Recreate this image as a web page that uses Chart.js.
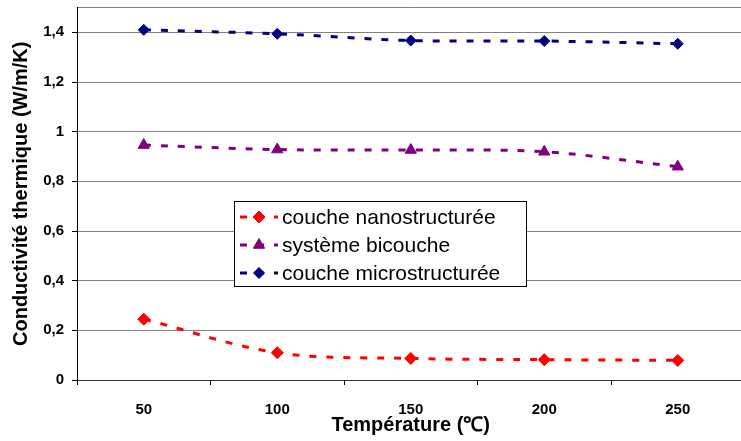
<!DOCTYPE html>
<html>
<head>
<meta charset="utf-8">
<script src="https://cdn.jsdelivr.net/npm/chart.js@4.4.0/dist/chart.umd.min.js"></script>
<style>
  html, body { margin: 0; padding: 0; background: #fff; overflow: hidden; }
  #wrap { width: 752px; height: 441px; }
</style>
</head>
<body>
<div id="wrap"><canvas id="c" width="752" height="441"></canvas></div>
<script>
// Thermal conductivity (W/m/K) versus temperature (°C)
const temperatures = ['50', '100', '150', '200', '250'];
const nanoLayer  = [0.245, 0.110, 0.087, 0.082, 0.079];
const bilayer    = [0.946, 0.928, 0.926, 0.919, 0.859];
const microLayer = [1.410, 1.394, 1.367, 1.365, 1.354];
const seriesNames = ['couche nanostructurée', 'système bicouche', 'couche microstructurée'];

const FONT = "'Liberation Sans', Arial, sans-serif";

// Framed legend drawn inside the plot area
const insideLegend = {
  id: 'insideLegend',
  afterDatasetsDraw(chart, args, o) {
    const { ctx, chartArea } = chart;
    const x0 = Math.round(chartArea.left + o.offsetX);
    const y0 = Math.round(chartArea.top + o.offsetY);
    ctx.save();
    ctx.fillStyle = '#fff';
    ctx.fillRect(x0, y0, o.width, o.height);
    ctx.strokeStyle = '#000';
    ctx.lineWidth = 1;
    ctx.strokeRect(x0 + 0.5, y0 + 0.5, o.width, o.height);
    chart.data.datasets.forEach((ds, i) => {
      const cy = y0 + o.firstRow + i * o.rowGap;
      ctx.strokeStyle = ds.borderColor;
      ctx.lineWidth = ds.borderWidth;
      ctx.setLineDash(ds.borderDash);
      ctx.beginPath();
      ctx.moveTo(x0 + 6, cy);
      ctx.lineTo(x0 + 44, cy);
      ctx.stroke();
      ctx.setLineDash([]);
      ctx.fillStyle = ds.pointBackgroundColor;
      ctx.strokeStyle = ds.pointBorderColor;
      ctx.lineWidth = 1;
      Chart.helpers.drawPoint(ctx, { pointStyle: ds.pointStyle, radius: ds.pointRadius, rotation: 0, borderWidth: 1 }, x0 + 25, cy);
      ctx.fillStyle = '#000';
      ctx.font = '21px ' + FONT;
      ctx.textBaseline = 'middle';
      ctx.textAlign = 'left';
      ctx.fillText(ds.label, x0 + 48, cy + 1);
    });
    ctx.restore();
  }
};

function series(label, data, color, style, radius) {
  return {
    label, data,
    borderColor: color,
    backgroundColor: color,
    borderWidth: 3,
    borderDash: [7, 10],
    tension: 0.35,
    pointStyle: style,
    pointRadius: radius,
    pointHoverRadius: radius,
    pointBackgroundColor: color,
    pointBorderColor: color,
    pointBorderWidth: 1,
    fill: false
  };
}

new Chart(document.getElementById('c'), {
  type: 'line',
  data: {
    labels: temperatures,
    datasets: [
      series(seriesNames[0], nanoLayer, '#ff0000', 'rectRot', 6),
      series(seriesNames[1], bilayer, '#800080', 'triangle', 6.5),
      series(seriesNames[2], microLayer, '#000080', 'rectRot', 5.5)
    ]
  },
  options: {
    responsive: false,
    animation: false,
    devicePixelRatio: 1,
    layout: { padding: { top: 6, right: 2, bottom: 0, left: 0 } },
    plugins: {
      legend: { display: false },
      tooltip: { enabled: false },
      insideLegend: { offsetX: 157, offsetY: 193, width: 292, height: 85, firstRow: 16, rowGap: 28 }
    },
    scales: {
      x: {
        type: 'category',
        offset: true,
        grid: { offset: true, drawOnChartArea: false, drawTicks: true, tickLength: 5, color: '#000' },
        border: { display: true, color: '#333', width: 1 },
        ticks: { color: '#000', padding: 16, font: { family: FONT, size: 15, weight: 'bold' } },
        title: { display: true, text: 'Température (℃)', color: '#000', padding: { top: 0, bottom: 4 },
                 font: { family: FONT, size: 20, weight: 'bold' } },
        afterFit(s) { s.height = 61; s.paddingLeft = 0; s.paddingRight = 0; }
      },
      y: {
        min: 0,
        max: 1.5,
        ticks: {
          stepSize: 0.2,
          color: '#000',
          padding: 8,
          font: { family: FONT, size: 15, weight: 'bold' },
          callback: v => v > 1.45 ? '' : String(Math.round(v * 10) / 10).replace('.', ',')
        },
        grid: {
          color: '#808080',
          lineWidth: 1,
          tickLength: 5,
          tickColor: c => (c.tick && c.tick.value > 1.45) ? 'rgba(0,0,0,0)' : '#000'
        },
        border: { display: true, color: '#000', width: 1 },
        title: { display: true, text: 'Conductivité thermique (W/m/K)', color: '#000', padding: { top: 9, bottom: 0 },
                 font: { family: FONT, size: 20, weight: 'bold' } },
        afterFit(s) { s.width = 77; s.paddingTop = 0; s.paddingBottom = 0; }
      }
    }
  },
  plugins: [insideLegend]
});
</script>
</body>
</html>
